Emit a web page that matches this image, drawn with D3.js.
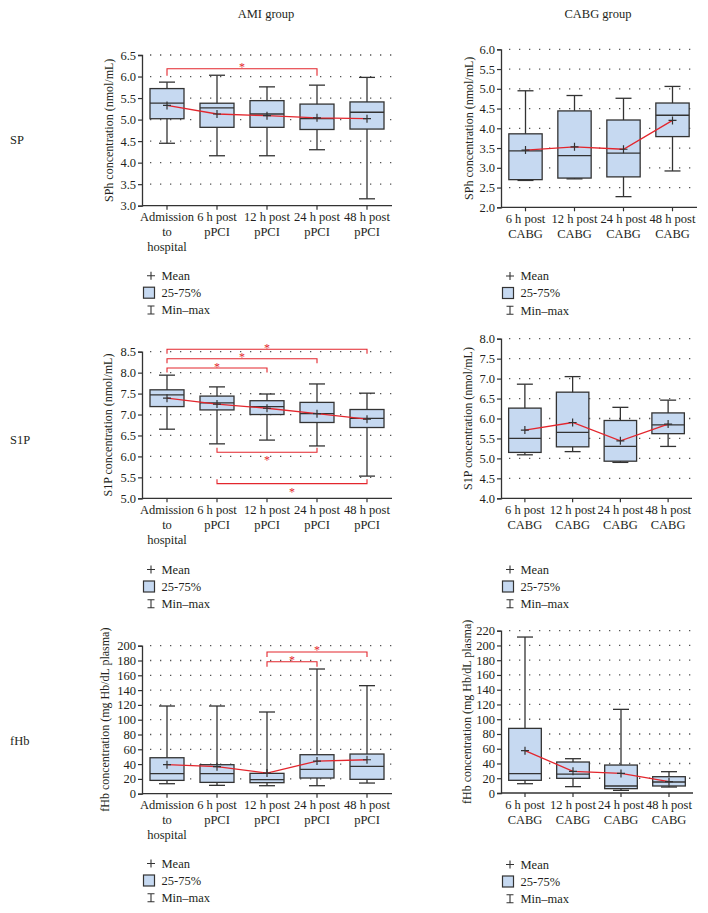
<!DOCTYPE html>
<html><head><meta charset="utf-8">
<script src="https://cdn.jsdelivr.net/npm/d3@7"></script>
<style>
body{margin:0;background:#fff}
svg{display:block}
svg text{font-family:"Liberation Serif","Times New Roman",serif !important;fill:#231f20}
</style>
</head><body>
<svg id="c" width="708" height="913"></svg>
<script>
// ---------- DATA ----------
const amiCategories = [["Admission","to","hospital"],["6 h post","pPCI"],["12 h post","pPCI"],["24 h post","pPCI"],["48 h post","pPCI"]];
const cabgCategories = [["6 h post","CABG"],["12 h post","CABG"],["24 h post","CABG"],["48 h post","CABG"]];

const amiSP = [
  {min:4.45,q1:5.02,median:5.38,q3:5.72,max:5.87,mean:5.33},
  {min:4.16,q1:4.82,median:5.27,q3:5.38,max:6.03,mean:5.13},
  {min:4.16,q1:4.82,median:5.13,q3:5.44,max:5.76,mean:5.09},
  {min:4.30,q1:4.77,median:5.02,q3:5.36,max:5.80,mean:5.04},
  {min:3.16,q1:4.78,median:5.17,q3:5.41,max:5.98,mean:5.02}
];
const cabgSP = [
  {min:2.68,q1:2.70,median:3.43,q3:3.86,max:4.95,mean:3.45},
  {min:2.72,q1:2.74,median:3.31,q3:4.44,max:4.83,mean:3.53},
  {min:2.27,q1:2.77,median:3.37,q3:4.21,max:4.76,mean:3.47},
  {min:2.92,q1:3.79,median:4.33,q3:4.64,max:5.06,mean:4.20}
];
const amiS1P = [
  {min:6.65,q1:7.19,median:7.47,q3:7.59,max:7.94,mean:7.39},
  {min:6.30,q1:7.11,median:7.28,q3:7.44,max:7.66,mean:7.25},
  {min:6.39,q1:7.00,median:7.19,q3:7.33,max:7.49,mean:7.15},
  {min:6.25,q1:6.81,median:7.02,q3:7.29,max:7.73,mean:7.02},
  {min:5.53,q1:6.69,median:6.91,q3:7.12,max:7.51,mean:6.89}
];
const cabgS1P = [
  {min:5.09,q1:5.15,median:5.50,q3:6.26,max:6.86,mean:5.71},
  {min:5.17,q1:5.29,median:5.65,q3:6.66,max:7.05,mean:5.90},
  {min:4.90,q1:4.93,median:5.30,q3:5.95,max:6.28,mean:5.44},
  {min:5.30,q1:5.62,median:5.84,q3:6.14,max:6.46,mean:5.86}
];
const amiFHb = [
  {min:13.5,q1:18.0,median:27.0,q3:48.6,max:118.5,mean:39.2},
  {min:11.3,q1:15.3,median:27.0,q3:39.2,max:118.5,mean:36.5},
  {min:10.8,q1:14.9,median:18.9,q3:27.5,max:110.4,mean:27.9},
  {min:10.8,q1:21.2,median:32.9,q3:52.7,max:168.5,mean:44.1},
  {min:14.4,q1:19.4,median:36.9,q3:53.6,max:146.0,mean:45.9}
];
const cabgFHb = [
  {min:12.6,q1:17.2,median:26.2,q3:87.6,max:211.4,mean:57.4},
  {min:8.6,q1:19.9,median:25.7,q3:42.0,max:46.5,mean:29.4},
  {min:3.6,q1:5.9,median:9.5,q3:37.9,max:113.4,mean:26.6},
  {min:8.1,q1:9.5,median:14.9,q3:22.1,max:28.9,mean:15.4}
];

const spAmiTicks = [3.0,3.5,4.0,4.5,5.0,5.5,6.0,6.5];
const spCabgTicks = [2.0,2.5,3.0,3.5,4.0,4.5,5.0,5.5,6.0];
const s1pAmiTicks = [5.0,5.5,6.0,6.5,7.0,7.5,8.0,8.5];
const s1pCabgTicks = [4.0,4.5,5.0,5.5,6.0,6.5,7.0,7.5,8.0];
const fhbAmiTicks = [0,20,40,60,80,100,120,140,160,180,200];
const fhbCabgTicks = [0,20,40,60,80,100,120,140,160,180,200,220];

// significance brackets: category indices and bracket level (in data units)
const amiSPSig = [{from:0,to:3,level:6.18,side:"top"}];
const amiS1PSig = [
  {from:0,to:4,level:8.56,side:"top"},
  {from:0,to:3,level:8.33,side:"top"},
  {from:0,to:2,level:8.11,side:"top"},
  {from:1,to:3,level:6.10,side:"bottom"},
  {from:1,to:4,level:5.35,side:"bottom"}
];
const amiFHbSig = [
  {from:2,to:4,level:191.5,side:"top"},
  {from:2,to:3,level:178.4,side:"top"}
];

const legendItems = ["Mean","25-75%","Min\u2013max"];
const groupTitles = ["AMI group","CABG group"];
const rowLabels = ["SP","S1P","fHb"];

// ---------- LAYOUT ----------
const RED = "#e3262d", DARK = "#333", FILL = "#c6d9f1";
const panels = [
  {data:amiSP, cats:amiCategories, ticks:spAmiTicks, fmt:".1f", title:"SPh concentration (nmol/mL)", x0:142, x1:392, yTop:55, yBot:205.7, titleX:109, legY:275.7, sig:amiSPSig, leg:7},
  {data:cabgSP, cats:cabgCategories, ticks:spCabgTicks, fmt:".1f", title:"SPh concentration (nmol/mL)", x0:501, x1:697, yTop:49.3, yBot:207.3, titleX:469, legY:276, sig:[], leg:0},
  {data:amiS1P, cats:amiCategories, ticks:s1pAmiTicks, fmt:".1f", title:"S1P concentration (nmol/mL)", x0:142, x1:392, yTop:351.7, yBot:498.3, titleX:107.5, legY:569.5, sig:amiS1PSig, leg:4.5},
  {data:cabgS1P, cats:cabgCategories, ticks:s1pCabgTicks, fmt:".1f", title:"S1P concentration (nmol/mL)", x0:501, x1:692, yTop:338.7, yBot:498.3, titleX:468, legY:569.5, sig:[], leg:0},
  {data:amiFHb, cats:amiCategories, ticks:fhbAmiTicks, fmt:"d", title:"fHb concentration (mg Hb/dL plasma)", x0:142, x1:392, yTop:645.7, yBot:793.7, titleX:105, legY:863.5, sig:amiFHbSig, leg:5},
  {data:cabgFHb, cats:cabgCategories, ticks:fhbCabgTicks, fmt:"d", title:"fHb concentration (mg Hb/dL plasma)", x0:501, x1:693, yTop:630.7, yBot:793, titleX:467, legY:864.5, sig:[], leg:0}
];

const svg = d3.select("#c");

// titles
svg.selectAll("text.gt").data(groupTitles).join("text")
  .attr("class","gt").attr("x",(d,i)=>[266,598][i]).attr("y",18)
  .attr("text-anchor","middle").attr("font-size",12.5).text(d=>d);
svg.selectAll("text.rl").data(rowLabels).join("text")
  .attr("class","rl").attr("x",10).attr("y",(d,i)=>[144,444,745][i])
  .attr("font-size",12.5).text(d=>d);

panels.forEach(p=>{
  const g = svg.append("g");
  const x = d3.scaleBand().domain(d3.range(p.data.length)).range([p.x0,p.x1]);
  const y = d3.scaleLinear().domain([p.ticks[0], p.ticks[p.ticks.length-1]]).range([p.yBot,p.yTop]);
  const bw = x.step()*0.68;
  const cx = i => x(i)+x.bandwidth()/2;

  // grid
  g.append("g").selectAll("line").data(p.ticks.slice(1)).join("line")
    .attr("x1",p.x0+8).attr("x2",p.x1).attr("y1",d=>y(d)).attr("y2",d=>y(d))
    .attr("stroke","#555").attr("stroke-width",1.3).attr("stroke-dasharray","1.3,8.7");

  // y axis
  const ya = g.append("g").attr("transform",`translate(${p.x0},0)`)
    .call(d3.axisLeft(y).tickValues(p.ticks).tickFormat(d3.format(p.fmt)).tickSize(4).tickPadding(2));
  ya.attr("font-family",null);
  ya.select(".domain").attr("stroke",DARK).attr("stroke-width",1.3);
  ya.selectAll(".tick line").attr("stroke",DARK).attr("stroke-width",1.2);
  ya.selectAll(".tick text").attr("font-size",12.5).attr("fill","#231f20");

  // x axis
  const xa = g.append("g").attr("transform",`translate(0,${p.yBot})`)
    .call(d3.axisBottom(x).tickSize(4).tickFormat(""));
  xa.select(".domain").attr("stroke",DARK).attr("stroke-width",1.3).attr("d",`M${p.x0},0H${p.x1}`);
  xa.selectAll(".tick line").attr("stroke",DARK).attr("stroke-width",1.2);
  p.cats.forEach((lines,i)=>{
    const t = g.append("text").attr("text-anchor","middle").attr("font-size",12.5);
    lines.forEach((ln,k)=>t.append("tspan").attr("x",cx(i)).attr("y",p.yBot+15.5+k*15).text(ln));
  });

  // y title
  g.append("text").attr("transform",`translate(${p.titleX},${(p.yTop+p.yBot)/2}) rotate(-90)`)
    .attr("text-anchor","middle").attr("dominant-baseline","central").attr("font-size",12).text(p.title);

  // boxes
  const bx = g.append("g").selectAll("g").data(p.data).join("g");
  bx.append("line").attr("x1",(d,i)=>cx(i)).attr("x2",(d,i)=>cx(i)).attr("y1",d=>y(d.max)).attr("y2",d=>y(d.min))
    .attr("stroke",DARK).attr("stroke-width",1.3);
  ["min","max"].forEach(k=>{
    bx.append("line").attr("x1",(d,i)=>cx(i)-8).attr("x2",(d,i)=>cx(i)+8).attr("y1",d=>y(d[k])).attr("y2",d=>y(d[k]))
      .attr("stroke",DARK).attr("stroke-width",1.3);
  });
  bx.append("rect").attr("x",(d,i)=>cx(i)-bw/2).attr("width",bw).attr("y",d=>y(d.q3)).attr("height",d=>y(d.q1)-y(d.q3))
    .attr("fill",FILL).attr("stroke",DARK).attr("stroke-width",1.3);
  bx.append("line").attr("x1",(d,i)=>cx(i)-bw/2).attr("x2",(d,i)=>cx(i)+bw/2).attr("y1",d=>y(d.median)).attr("y2",d=>y(d.median))
    .attr("stroke",DARK).attr("stroke-width",1.3);

  // mean line
  g.append("path").datum(p.data)
    .attr("d",d3.line().x((d,i)=>cx(i)).y(d=>y(d.mean)))
    .attr("fill","none").attr("stroke",RED).attr("stroke-width",1.3);
  // mean markers
  const mk = g.append("g").selectAll("g").data(p.data).join("g")
    .attr("transform",(d,i)=>`translate(${cx(i)},${y(d.mean)})`);
  mk.append("path").attr("d","M-4,0H4M0,-4V4").attr("stroke",DARK).attr("stroke-width",1.2);

  // significance brackets
  p.sig.forEach(s=>{
    const ly = y(s.level), a = cx(s.from), b = cx(s.to);
    const dir = s.side==="top" ? 1 : -1;
    g.append("path").attr("d",`M${a},${ly+dir*p.leg}V${ly}H${b}V${ly+dir*p.leg}`)
      .attr("fill","none").attr("stroke",RED).attr("stroke-width",1.1);
    g.append("text").attr("x",(a+b)/2).attr("y", s.side==="top" ? ly+2.5 : ly+12)
      .attr("text-anchor","middle").attr("font-size",12).style("fill",RED).text("*");
  });

  // legend (legY = vertical centre of first item)
  const lx = p.x0, c0 = p.legY, c1 = p.legY+17, c2 = p.legY+34.3;
  const lg = g.append("g");
  lg.append("path").attr("d",`M${lx+5},${c0}h8M${lx+9},${c0-4}v8`).attr("stroke",DARK).attr("stroke-width",1.1);
  lg.append("rect").attr("x",lx+1.5).attr("y",c1-5.5).attr("width",11).attr("height",11)
    .attr("fill",FILL).attr("stroke",DARK).attr("stroke-width",1.2);
  lg.append("path").attr("d",`M${lx+5.5},${c2-4}h7M${lx+5.5},${c2+4}h7M${lx+9},${c2-4}v8`)
    .attr("stroke",DARK).attr("stroke-width",1.1);
  lg.selectAll("text").data(legendItems).join("text")
    .attr("x",lx+19.5).attr("y",(d,i)=>[c0,c1,c2][i]+4.3).attr("font-size",12.5).text(d=>d);
});
</script>
</body></html>
